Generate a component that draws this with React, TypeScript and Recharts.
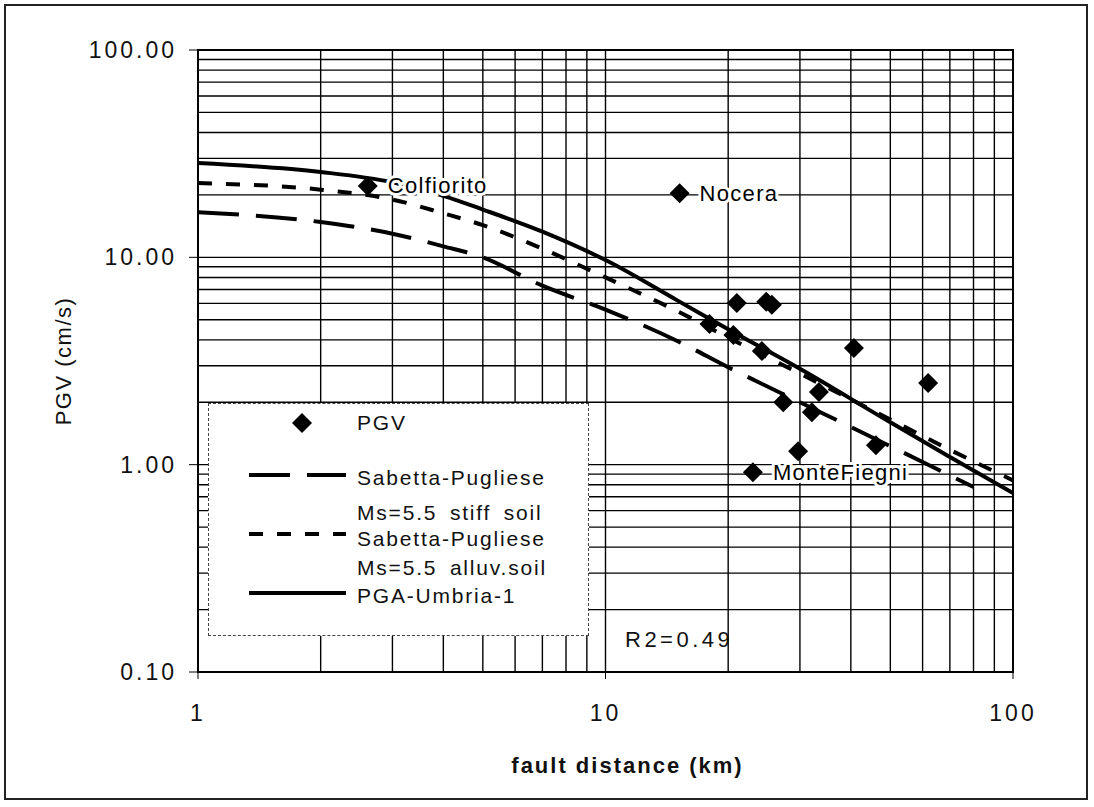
import React from 'react';
import {
  ComposedChart,
  Line,
  Scatter,
  XAxis,
  YAxis,
  CartesianGrid,
  ReferenceArea,
  Legend,
  Label,
} from 'recharts';

const FONT = '"Liberation Sans", Arial, Helvetica, sans-serif';

// axis ticks (log-log)
const distanceTicks = [1, 10, 100];
const pgvTicks = [0.1, 1, 10, 100];

// minor log grid
const gridDistance = [2, 3, 4, 5, 6, 7, 8, 9, 10, 20, 30, 40, 50, 60, 70, 80, 90];
const gridPgv = [
  0.2, 0.3, 0.4, 0.5, 0.6, 0.7, 0.8, 0.9, 1, 2, 3, 4, 5, 6, 7, 8, 9, 10, 20, 30, 40, 50, 60, 70, 80, 90,
];

// Sabetta-Pugliese, Ms=5.5 stiff soil
const sabettaStiff = [
  { d: 1, v: 16.5 },
  { d: 2, v: 14.8 },
  { d: 3, v: 13 },
  { d: 4, v: 11.3 },
  { d: 5, v: 10 },
  { d: 7, v: 7.3 },
  { d: 10, v: 5.6 },
  { d: 15, v: 3.95 },
  { d: 20, v: 2.95 },
  { d: 30, v: 2.0 },
  { d: 40, v: 1.52 },
  { d: 60, v: 1.03 },
  { d: 80, v: 0.78 },
];

// Sabetta-Pugliese, Ms=5.5 alluvial soil
const sabettaAlluv = [
  { d: 1, v: 22.8 },
  { d: 2, v: 21.2 },
  { d: 3, v: 19 },
  { d: 4, v: 16.3 },
  { d: 5, v: 14.3 },
  { d: 7, v: 11 },
  { d: 10, v: 8 },
  { d: 15, v: 5.5 },
  { d: 20, v: 4.1 },
  { d: 30, v: 2.75 },
  { d: 50, v: 1.65 },
  { d: 70, v: 1.18 },
  { d: 100, v: 0.84 },
];

// PGA-Umbria-1 regression
const umbria = [
  { d: 1, v: 28.5 },
  { d: 2, v: 25.8 },
  { d: 3, v: 23 },
  { d: 4, v: 19.8 },
  { d: 5, v: 17 },
  { d: 7, v: 13.3 },
  { d: 10, v: 9.7 },
  { d: 15, v: 6.2 },
  { d: 20, v: 4.5 },
  { d: 30, v: 2.9 },
  { d: 50, v: 1.6 },
  { d: 70, v: 1.09 },
  { d: 100, v: 0.73 },
];

// recorded PGV per station
const pgvRecords = [
  { d: 2.61, v: 22.1, name: 'Colfiorito' },
  { d: 15.2, v: 20.4, name: 'Nocera' },
  { d: 21.0, v: 6.02 },
  { d: 24.8, v: 6.1 },
  { d: 25.6, v: 5.9 },
  { d: 18.0, v: 4.77 },
  { d: 20.6, v: 4.22 },
  { d: 24.2, v: 3.53 },
  { d: 40.7, v: 3.65 },
  { d: 61.9, v: 2.48 },
  { d: 33.4, v: 2.24 },
  { d: 27.3, v: 2.0 },
  { d: 32.1, v: 1.79 },
  { d: 46.1, v: 1.24 },
  { d: 29.7, v: 1.16 },
  { d: 23.0, v: 0.92, name: 'MonteFiegni' },
];

const legendLabels = [
  'PGV',
  'Sabetta-Pugliese',
  'Ms=5.5 stiff soil',
  'Sabetta-Pugliese',
  'Ms=5.5 alluv.soil',
  'PGA-Umbria-1',
];

const LONG_DASH = '41 17';
const SHORT_DASH = '14 14';

const Diamond = ({ cx, cy, r = 10 }: { cx: number; cy: number; r?: number }) => (
  <polygon points={`${cx},${cy - r} ${cx + r},${cy} ${cx},${cy + r} ${cx - r},${cy}`} fill="#000" />
);

const StationMark = (props: any) => {
  const { cx, cy, payload } = props;
  return (
    <g>
      <Diamond cx={cx} cy={cy} />
      {payload.name && (
        <text
          x={cx + 20}
          y={cy}
          dominantBaseline="central"
          fontFamily={FONT}
          fontSize={22}
          letterSpacing={1.3}
          fill="#000"
          stroke="#fff"
          strokeWidth={6}
          paintOrder="stroke"
        >
          {payload.name}
        </text>
      )}
    </g>
  );
};

const PgvTick = ({ x, y, payload }: any) => (
  <text
    x={x}
    y={y}
    textAnchor="end"
    dominantBaseline="central"
    fontFamily={FONT}
    fontSize={23}
    letterSpacing={3}
    fill="#111"
  >
    {Number(payload.value).toFixed(2)}
  </text>
);

const DistanceTick = ({ x, y, payload }: any) => (
  <text
    x={x}
    y={y + 34}
    textAnchor="middle"
    dominantBaseline="central"
    fontFamily={FONT}
    fontSize={23}
    letterSpacing={3}
    fill="#111"
  >
    {payload.value}
  </text>
);

const LegendBox = () => {
  const rowY = [20, 75, 110, 136, 165, 193];
  return (
    <div
      style={{
        width: 381,
        height: 233,
        background: '#fff',
        border: '1.5px dashed #444',
        boxSizing: 'border-box',
        position: 'relative',
        fontFamily: FONT,
        fontSize: 21,
        letterSpacing: 1.8,
        wordSpacing: 5,
        color: '#111',
      }}
    >
      <svg width={381} height={233} style={{ position: 'absolute', left: -1.5, top: -1.5 }}>
        <Diamond cx={94} cy={20} />
        <line x1={41} x2={138} y1={72} y2={72} stroke="#000" strokeWidth={4} strokeDasharray={LONG_DASH} />
        <line x1={41} x2={138} y1={131} y2={131} stroke="#000" strokeWidth={4} strokeDasharray={SHORT_DASH} />
        <line x1={41} x2={138} y1={190} y2={190} stroke="#000" strokeWidth={4} />
      </svg>
      {legendLabels.map((t, i) => (
        <div
          key={i}
          style={{ position: 'absolute', left: 148, top: rowY[i] - 11, lineHeight: '20px', whiteSpace: 'nowrap' }}
        >
          {t}
        </div>
      ))}
    </div>
  );
};

export default function App() {
  return (
    <div style={{ position: 'absolute', left: 0, top: 0, width: 1094, height: 807, background: '#fff' }}>
      <div
        style={{
          position: 'absolute',
          left: 4,
          top: 4,
          width: 1084,
          height: 796,
          border: '2px solid #222',
          boxSizing: 'border-box',
        }}
      />
      <div style={{ position: 'absolute', left: 0, top: 0 }}>
        <ComposedChart width={1094} height={807} margin={{ top: 50, right: 81, left: 118, bottom: 75 }}>
          <CartesianGrid
            horizontalValues={gridPgv}
            verticalValues={gridDistance}
            stroke="#000"
            strokeWidth={1.4}
          />
          <XAxis
            dataKey="d"
            type="number"
            scale="log"
            domain={[1, 100]}
            ticks={distanceTicks}
            interval={0}
            allowDataOverflow
            height={60}
            axisLine={{ stroke: '#000', strokeWidth: 2 }}
            tickLine={{ stroke: '#000', strokeWidth: 1 }}
            tickSize={7}
            tickMargin={0}
            tick={<DistanceTick />}
          >
            <Label
              content={(p: any) => (
                <text
                  x={p.viewBox.x + p.viewBox.width / 2 + 22}
                  y={p.viewBox.y + 93}
                  textAnchor="middle"
                  dominantBaseline="central"
                  fontFamily={FONT}
                  fontWeight="bold"
                  fontSize={22}
                  letterSpacing={2}
                  fill="#111"
                >
                  fault distance (km)
                </text>
              )}
            />
          </XAxis>
          <YAxis
            dataKey="v"
            type="number"
            scale="log"
            domain={[0.1, 100]}
            ticks={pgvTicks}
            interval={0}
            allowDataOverflow
            width={80}
            axisLine={{ stroke: '#000', strokeWidth: 2 }}
            tickLine={{ stroke: '#000', strokeWidth: 1 }}
            tickSize={9}
            tickMargin={12}
            tick={<PgvTick />}
          >
            <Label
              content={(p: any) => {
                const cy = p.viewBox.y + p.viewBox.height / 2;
                return (
                  <text
                    x={63}
                    y={cy}
                    transform={`rotate(-90 63 ${cy})`}
                    textAnchor="middle"
                    dominantBaseline="central"
                    fontFamily={FONT}
                    fontSize={22}
                    letterSpacing={1.5}
                    fill="#111"
                  >
                    PGV (cm/s)
                  </text>
                );
              }}
            />
          </YAxis>
          <ReferenceArea
            x1={1}
            x2={100}
            y1={0.1}
            y2={100}
            fill="none"
            stroke="#000"
            strokeWidth={2}
            ifOverflow="visible"
          />
          <Scatter data={pgvRecords} dataKey="v" shape={<StationMark />} isAnimationActive={false} />
          <Line
            data={sabettaStiff}
            dataKey="v"
            type="monotone"
            stroke="#000"
            strokeWidth={4}
            strokeDasharray={LONG_DASH}
            dot={false}
            isAnimationActive={false}
          />
          <Line
            data={sabettaAlluv}
            dataKey="v"
            type="monotone"
            stroke="#000"
            strokeWidth={4}
            strokeDasharray={SHORT_DASH}
            dot={false}
            isAnimationActive={false}
          />
          <Line
            data={umbria}
            dataKey="v"
            type="monotone"
            stroke="#000"
            strokeWidth={4}
            dot={false}
            isAnimationActive={false}
          />
          <Legend
            layout="horizontal"
            verticalAlign="middle"
            align="center"
            content={() => <LegendBox />}
            wrapperStyle={{ left: 208, top: 403, width: 381, height: 233 }}
          />
        </ComposedChart>
      </div>
      <div
        style={{
          position: 'absolute',
          left: 625,
          top: 627,
          fontFamily: FONT,
          fontSize: 22,
          letterSpacing: 3.5,
          lineHeight: '26px',
          color: '#111',
        }}
      >
        R2=0.49
      </div>
    </div>
  );
}
